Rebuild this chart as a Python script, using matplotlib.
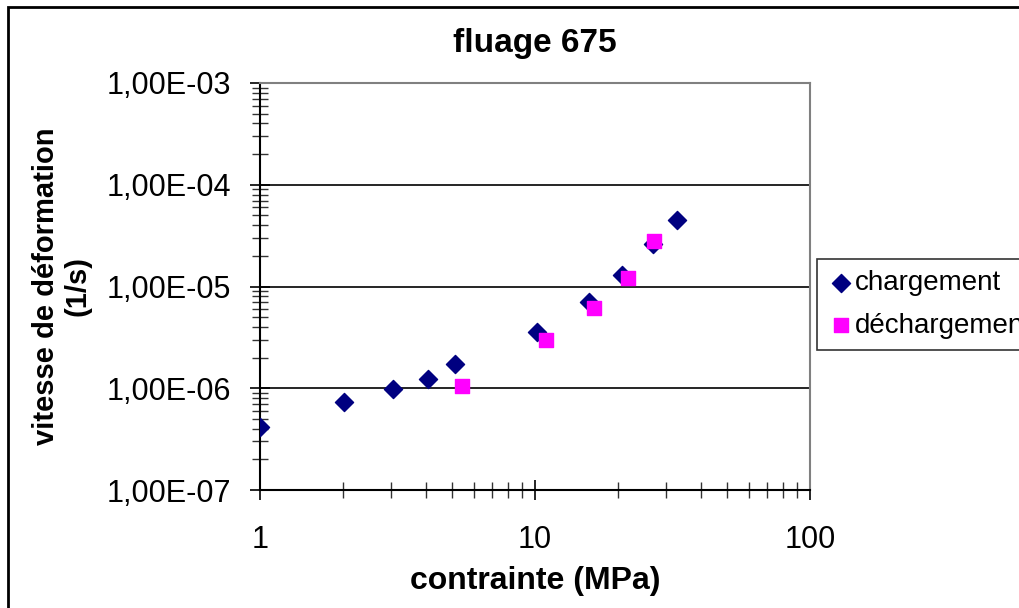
import matplotlib.pyplot as plt
from matplotlib.patches import Rectangle
from matplotlib.ticker import LogLocator, FixedLocator, NullFormatter

plt.rcParams['font.family'] = ['Liberation Sans', 'DejaVu Sans']

# chargement (diamonds)
x_charge = [1.0, 2.02, 3.05, 4.08, 5.1, 10.2, 15.7, 20.7, 26.9, 32.8]
y_charge = [4.2e-7, 7.3e-7, 9.8e-7, 1.22e-6, 1.72e-6, 3.54e-6, 6.97e-6, 1.31e-5, 2.64e-5, 4.54e-5]

# déchargement (squares)
x_decharge = [5.43, 10.96, 16.4, 21.8, 27.1]
y_decharge = [1.05e-6, 2.96e-6, 6.09e-6, 1.2e-5, 2.77e-5]

y_ticks = [1e-7, 1e-6, 1e-5, 1e-4, 1e-3]
y_labels = ['1,00E-07', '1,00E-06', '1,00E-05', '1,00E-04', '1,00E-03']
x_ticks = [1, 10, 100]
x_labels = ['1', '10', '100']

fig = plt.figure(figsize=(10.2, 6.08), dpi=100)
ax = fig.add_axes([260 / 1020, 1 - 490 / 608, 550 / 1020, 407 / 608])

ax.scatter(x_charge, y_charge, marker='D', s=85, color='#000080', zorder=3,
           label='chargement')
ax.scatter(x_decharge, y_decharge, marker='s', s=115, color='#FF00FF', zorder=4,
           label='déchargement')

ax.set_xscale('log')
ax.set_yscale('log')
ax.set_xlim(1, 100)
ax.set_ylim(1e-7, 1e-3)

ax.yaxis.set_major_locator(FixedLocator(y_ticks))
ax.set_yticklabels(y_labels)
ax.xaxis.set_major_locator(FixedLocator(x_ticks))
ax.set_xticklabels(x_labels)
ax.xaxis.set_minor_locator(LogLocator(base=10, subs=range(2, 10)))
ax.yaxis.set_minor_locator(LogLocator(base=10, subs=range(2, 10)))
ax.xaxis.set_minor_formatter(NullFormatter())
ax.yaxis.set_minor_formatter(NullFormatter())

ax.tick_params(which='major', direction='inout', length=14, width=1.2,
               labelsize=22, color='black')
ax.tick_params(which='minor', direction='inout', length=12, width=1.0,
               color='#333333')
ax.tick_params(axis='y', which='major', pad=14)
ax.tick_params(axis='x', which='major', pad=18)

ax.grid(True, axis='y', which='major', color='black', linewidth=1.2)
ax.set_axisbelow(True)

ax.spines['left'].set_linewidth(1.5)
ax.spines['bottom'].set_linewidth(1.5)
ax.spines['top'].set_color('#808080')
ax.spines['right'].set_color('#808080')
ax.spines['top'].set_linewidth(1.5)
ax.spines['right'].set_linewidth(1.5)

ax.set_title('fluage 675', fontsize=24, fontweight='bold', pad=22)
ax.set_xlabel('contrainte (MPa)', fontsize=23, fontweight='bold', labelpad=8)
ax.set_ylabel('vitesse de déformation\n(1/s)', fontsize=21, fontweight='bold',
              labelpad=11, linespacing=1.15)

leg = fig.legend(loc='upper left', bbox_to_anchor=(817 / 1020, 1 - 259 / 608),
                 fontsize=20, frameon=True, fancybox=False, edgecolor='black',
                 handletextpad=0.05, handlelength=0.9, borderpad=0.4,
                 labelspacing=0.6, borderaxespad=0)
leg.get_frame().set_linewidth(1.2)

# outer chart border
fig.patches.append(Rectangle((8 / 1020, -0.1), 1.2, 1 - 7 / 608 + 0.1,
                             transform=fig.transFigure, fill=False,
                             edgecolor='black', linewidth=2))

fig.savefig('out.png', dpi=100)
